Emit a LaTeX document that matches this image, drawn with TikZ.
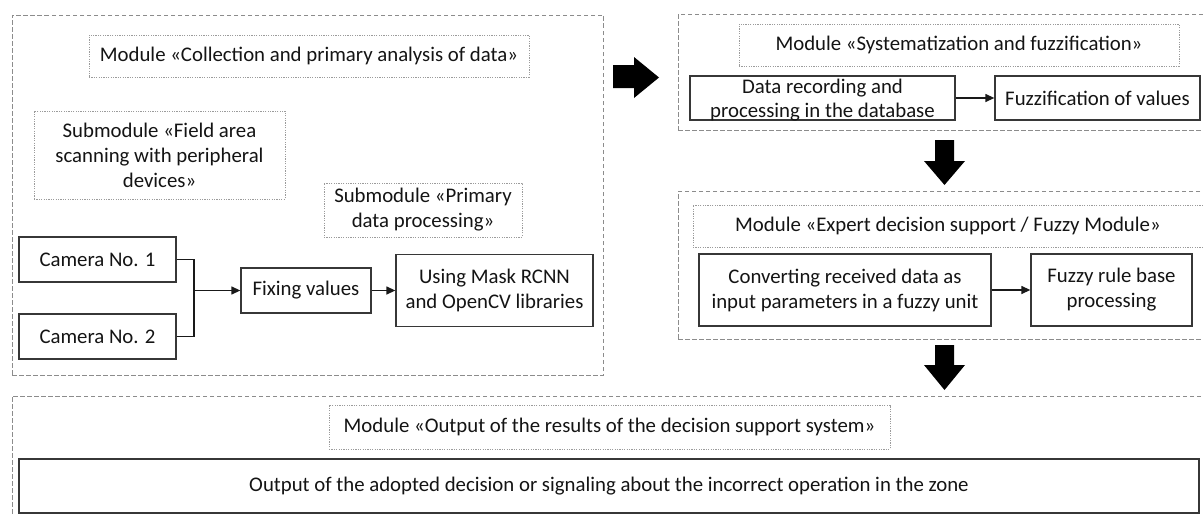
\documentclass[tikz,border=0pt]{standalone}
\usepackage{fontspec}
\setmainfont{Carlito}
\usetikzlibrary{arrows.meta}
\definecolor{dashgray}{RGB}{140,140,140}
\definecolor{dotgray}{RGB}{155,155,155}
\definecolor{boxline}{RGB}{55,55,55}
\definecolor{ink}{RGB}{20,20,20}
\tikzset{
  modbox/.style={draw=dashgray, line width=0.9pt, dash pattern=on 4.5pt off 2.5pt, inner sep=0pt},
  titlebox/.style={draw=dotgray, line width=0.9pt, dash pattern=on 1.2pt off 1.2pt, inner sep=0pt, align=center, text=ink, font=\fontsize{20.8}{25}\selectfont},
  procbox/.style={draw=boxline, line width=1.3pt, inner sep=0pt, align=center, text=ink, font=\fontsize{20.8}{25}\selectfont},
  flow/.style={line width=1.3pt, draw=black!90, -{Triangle[length=9pt,width=8pt]}},
  plainline/.style={line width=1.3pt, draw=black!90},
  bigarrow/.style={fill=black, draw=none}
}
\begin{document}
\begin{tikzpicture}[x=1pt,y=-1pt]
\useasboundingbox (0,0) rectangle (1203,514);
\fill[white] (0,0) rectangle (1203,514);
\clip (0,0) rectangle (1203,514);

% module frames
\node[modbox, minimum width=591pt, minimum height=360pt] (m1) at (307.5,195) {};
\node[modbox, minimum width=537pt, minimum height=116pt] (m2) at (946.5,72) {};
\node[modbox, minimum width=537pt, minimum height=148pt] (m3) at (946.5,265) {};
\node[modbox, minimum width=1203pt, minimum height=134pt] (m4) at (613.5,463) {};

% module 1
\node[titlebox, minimum width=440pt, minimum height=42pt] (t1) at (309,56) {Module «Collection and primary analysis of data»};
\node[titlebox, minimum width=251pt, minimum height=88pt] (sf) at (159.5,155) {Submodule «Field area\\scanning with peripheral\\devices»};
\node[titlebox, minimum width=198pt, minimum height=54pt] (sp) at (423,210) {Submodule «Primary\\data processing»};
\node[procbox, minimum width=157pt, minimum height=45pt] (cam1) at (97.5,259.5) {Camera No. 1};
\node[procbox, minimum width=157pt, minimum height=45pt] (cam2) at (97.5,336.5) {Camera No. 2};
\node[procbox, minimum width=130pt, minimum height=45pt] (fix) at (306,290.5) {Fixing values};
\node[procbox, minimum width=197pt, minimum height=72pt] (mask) at (494.5,290.5) {Using Mask RCNN\\and OpenCV libraries};
\coordinate (j) at (194,290.5);
\draw[plainline] (cam1.east) -| (j);
\draw[plainline] (cam2.east) -| (j);
\draw[flow] (j) -- (fix.west);
\draw[flow] (fix.east) -- (mask.west);

% module 2
\node[titlebox, minimum width=440pt, minimum height=42pt] (t2) at (959,45) {Module «Systematization and fuzzification»};
\node[procbox, minimum width=265pt, minimum height=44pt] (dr) at (822.5,98) {};
\node[align=center, inner sep=0pt, text=ink, font=\fontsize{20.8}{23.5}\selectfont] (drtext) at (822.5,100) {Data recording and\\processing in the database};
\node[procbox, minimum width=205pt, minimum height=44pt] (fz) at (1097.5,98) {Fuzzification of values};
\draw[flow] (dr.east) -- (fz.west);

% module 3
\node[titlebox, minimum width=510pt, minimum height=42pt] (t3) at (948,226) {Module «Expert decision support / Fuzzy Module»};
\node[procbox, minimum width=292pt, minimum height=72pt] (cv) at (845,290) {Converting received data as\\input parameters in a fuzzy unit};
\node[procbox, minimum width=161pt, minimum height=72pt] (fr) at (1111.5,290) {Fuzzy rule base\\processing};
\draw[flow] (cv.east) -- (fr.west);

% module 4
\node[titlebox, minimum width=561pt, minimum height=44pt] (t4) at (609.5,427) {Module «Output of the results of the decision support system»};
\node[procbox, minimum width=1180pt, minimum height=54pt] (out) at (609,486) {Output of the adopted decision or signaling about the incorrect operation in the zone};

% block arrows between modules
\fill[bigarrow] (613,65) -- (634,65) -- (634,57) -- (659,77.5) -- (634,98) -- (634,88) -- (613,88) -- cycle;
\fill[bigarrow] (935,140) -- (954,140) -- (954,161) -- (965,161) -- (944.5,185) -- (924,161) -- (935,161) -- cycle;
\fill[bigarrow] (935,345) -- (954,345) -- (954,365) -- (965,365) -- (944.5,390) -- (924,365) -- (935,365) -- cycle;
\end{tikzpicture}
\end{document}
